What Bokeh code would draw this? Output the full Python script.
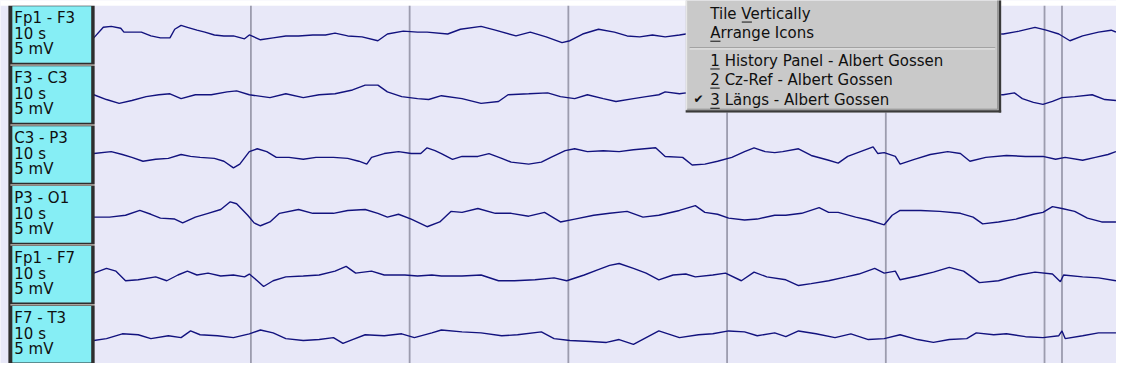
from bokeh.plotting import figure
from bokeh.models import Range1d
from bokeh.embed import file_html
from bokeh.resources import INLINE
from bokeh.core.properties import value

# ---------------- data ----------------
channels = ["Fp1 - F3", "F3 - C3", "C3 - P3", "P3 - O1", "Fp1 - F7", "F7 - T3"]
time_label = "10 s"
gain_label = "5 mV"
second_marks = [1, 2, 3, 4, 5, 6]
event_marks = [6.11]
menu_items = ["Tile Vertically", "Arrange Icons",
              "1 History Panel - Albert Gossen",
              "2 Cz-Ref - Albert Gossen",
              "3 L\u00e4ngs - Albert Gossen"]

# time in seconds, amplitude in display units (positive = up)
t_fp1_f3 = [0.01,0.07,0.12,0.18,0.20,0.25,0.31,0.37,0.43,0.49,0.52,0.56,0.60,0.66,0.71,0.77,0.83,0.89,0.96,0.99,
            1.06,1.14,1.22,1.30,1.39,1.47,1.53,1.61,1.70,1.80,1.86,1.96,2.05,2.11,2.24,2.32,2.45,2.54,2.67,2.76,
            2.86,2.96,3.01,3.09,3.19,3.29,3.37,3.45,3.53,3.61,3.70,3.74,5.74,5.84,5.94,6.01,6.09,6.16,6.24,6.34,
            6.42,6.45]
a_fp1_f3 = [-1,10,11,9,5,5,5,1,-1,-1,8,12,10,7,5,2,1,1,-2,2,
            -3,-1,1,1,2,2,4,1,0,-4,3,6,5,5,3,8,11,7,1,5,
            0,-6,-4,3,8,5,1,0,2,0,2,3,3,6,10,7,3,-4,1,5,
            7,5]

t_f3_c3 = [0.01,0.09,0.17,0.25,0.34,0.42,0.49,0.56,0.65,0.75,0.85,0.91,0.99,1.12,1.22,1.33,1.43,1.53,1.64,1.72,
           1.80,1.86,1.95,2.05,2.12,2.20,2.33,2.45,2.56,2.62,2.75,2.87,2.95,3.04,3.12,3.22,3.30,3.41,3.49,3.57,
           3.61,3.70,3.74,5.74,5.81,5.86,5.93,5.99,6.05,6.11,6.19,6.30,6.38,6.45]
a_f3_c3 = [2,-3,-7,-4,0,2,3,-2,2,2,5,6,2,-1,3,-1,2,3,7,12,
           12,5,0,-2,-3,1,-2,-7,-5,2,3,4,0,-2,2,-2,-5,-2,0,2,
           5,3,4,2,4,-2,-6,-8,-5,-1,0,2,-3,-4]

t_c3_p3 = [0.01,0.12,0.19,0.25,0.32,0.40,0.48,0.56,0.62,0.68,0.77,0.83,0.89,0.93,0.99,1.04,1.10,1.16,1.24,1.33,
           1.41,1.52,1.61,1.68,1.73,1.76,1.84,1.93,2.01,2.07,2.11,2.16,2.20,2.27,2.33,2.43,2.50,2.58,2.64,2.75,
           2.83,2.89,2.98,3.04,3.12,3.22,3.32,3.41,3.55,3.61,3.72,3.78,3.86,3.94,4.03,4.11,4.17,4.24,4.30,4.35,
           4.45,4.53,4.64,4.70,4.76,4.84,4.92,4.95,4.99,5.06,5.09,5.18,5.28,5.39,5.47,5.53,5.63,5.76,5.88,5.99,
           6.07,6.13,6.24,6.32,6.40,6.45]
a_c3_p3 = [3,5,2,-1,-5,-3,-2,2,0,-1,-2,-5,-12,-8,5,8,5,-1,-1,-3,
           -1,-1,-2,-5,-8,-1,3,5,3,3,9,6,3,-3,0,0,3,-2,-6,-8,
           -6,-1,6,8,5,6,5,7,9,0,-1,-9,-8,-5,-1,5,9,5,4,5,
           8,1,-4,-7,0,5,10,3,4,0,-8,-3,2,5,3,-5,-1,1,0,0,
           -3,-1,-4,-1,2,5]

t_p3_o1 = [0.01,0.11,0.21,0.30,0.37,0.43,0.52,0.57,0.65,0.73,0.81,0.87,0.91,0.98,1.02,1.06,1.12,1.18,1.30,1.39,
           1.52,1.61,1.72,1.80,1.86,1.93,2.01,2.11,2.19,2.26,2.33,2.43,2.54,2.64,2.75,2.85,2.95,3.04,3.16,3.26,
           3.37,3.47,3.57,3.70,3.80,3.86,3.94,4.01,4.11,4.19,4.30,4.37,4.47,4.58,4.64,4.70,4.81,4.89,4.99,5.04,
           5.09,5.22,5.34,5.47,5.55,5.61,5.71,5.82,5.93,5.99,6.05,6.11,6.19,6.27,6.36,6.45]
a_p3_o1 = [-1,-1,1,6,2,-2,-3,-7,-1,3,7,15,13,1,-7,-10,-6,3,7,3,
           3,6,7,3,-1,2,-3,-11,-6,5,4,8,3,3,0,4,-6,-3,1,3,
           5,-1,1,6,11,4,2,-2,-4,-3,1,1,3,9,4,4,-1,-4,-9,1,
           6,6,5,3,-1,-8,-6,-3,2,4,10,8,5,-2,-6,-6]

t_fp1_f7 = [0.01,0.09,0.15,0.21,0.29,0.40,0.47,0.54,0.60,0.66,0.73,0.81,0.89,0.96,0.99,1.04,1.08,1.14,1.22,1.33,
            1.43,1.53,1.60,1.66,1.76,1.84,1.97,2.05,2.14,2.20,2.33,2.45,2.56,2.66,2.79,2.91,2.99,3.10,3.18,3.26,
            3.32,3.41,3.49,3.57,3.66,3.74,3.80,3.91,3.99,4.09,4.17,4.25,4.37,4.45,4.53,4.64,4.75,4.83,4.93,4.99,
            5.06,5.09,5.20,5.30,5.40,5.49,5.59,5.71,5.84,5.94,6.05,6.10,6.12,6.24,6.34,6.45]
a_fp1_f7 = [3,8,5,-5,-4,-1,-5,1,5,1,3,0,1,-1,2,-5,-11,-5,-1,0,
            1,5,10,3,5,1,1,0,1,0,0,1,-5,-5,-4,-2,-5,1,6,11,
            13,8,3,-4,1,2,-1,1,3,-5,4,-1,-4,-10,-8,-5,-1,2,8,3,
            5,-4,0,4,9,5,-7,-5,1,4,2,-6,1,-1,-2,-5]

t_f7_t3 = [0.01,0.09,0.19,0.29,0.37,0.48,0.56,0.62,0.68,0.79,0.89,0.99,1.06,1.14,1.22,1.33,1.43,1.52,1.58,1.64,
           1.72,1.84,1.95,2.03,2.14,2.20,2.33,2.45,2.58,2.68,2.83,2.91,3.01,3.14,3.24,3.32,3.41,3.49,3.57,3.70,
           3.82,3.91,4.01,4.11,4.19,4.30,4.37,4.45,4.56,4.68,4.78,4.89,4.99,5.09,5.20,5.30,5.40,5.51,5.57,5.68,
           5.76,5.88,5.99,6.09,6.11,6.13,6.24,6.34,6.45]
a_f7_t3 = [-5,-3,2,1,-3,0,-2,5,1,0,-2,2,6,3,-3,-5,-4,-2,-8,-4,
           1,0,2,-2,3,6,4,3,0,1,4,-3,-5,-6,-7,-4,-9,-2,5,-2,
           1,2,5,4,0,3,-1,5,2,-2,2,-4,-3,1,-4,-7,-4,-3,3,1,
           2,-1,-2,0,5,-3,0,3,3]

traces = [(t_fp1_f3, a_fp1_f3), (t_f3_c3, a_f3_c3), (t_c3_p3, a_c3_p3),
          (t_p3_o1, a_p3_o1), (t_fp1_f7, a_fp1_f7), (t_f7_t3, a_f7_t3)]

# ---------------- layout helpers ----------------
PX_PER_S = 161.0      # horizontal scale (reference pixels per second)
X0 = 93.0             # reference x of t = 0
Y0 = 38.0             # reference y of first channel baseline
ROW = 62.4            # channel spacing (display units)
W, H = 1116, 363
TXT_DY = 6.0          # text baseline correction
FS = "15px"

def tx(px):
    return (px - X0) / PX_PER_S

def ty(py):
    return Y0 - py

p = figure(width=W, height=H, output_backend="svg", toolbar_location=None,
           x_range=Range1d(tx(0), tx(1132)), y_range=Range1d(ty(379), ty(0)),
           x_axis_type=None, y_axis_type=None, min_border=0)
p.background_fill_color = "#E8E8F8"
p.border_fill_color = "white"
p.outline_line_color = None
p.xgrid.visible = False
p.ygrid.visible = False

FONT = value("DejaVu Sans")
TOP, BOT = ty(-20), ty(420)

# white strip above the EEG window
p.quad(left=[tx(-10)], right=[tx(1140)], top=[TOP], bottom=[ty(5.5)], fill_color="white", line_color=None)

# second markers and event marker
p.segment(x0=second_marks, y0=[ty(5.5)] * len(second_marks), x1=second_marks, y1=[BOT] * len(second_marks),
          line_color="#9C9CAE", line_width=1.8)
p.segment(x0=event_marks, y0=[ty(5.5)] * len(event_marks), x1=event_marks, y1=[BOT] * len(event_marks),
          line_color="#9C9CAE", line_width=1.8)

# traces
for i, (t, a) in enumerate(traces):
    p.line(t, [-ROW * i + v for v in a], line_color="#12127E", line_width=1.4)

# label panel
p.quad(left=[tx(8)], right=[tx(95.5)], top=[ty(5.5)], bottom=[BOT], fill_color="#2E2E2E", line_color=None)
box_tops = [6 + 62.6 * i for i in range(6)]
p.quad(left=[tx(12)] * 6, right=[tx(92)] * 6,
       top=[ty(b) for b in box_tops], bottom=[ty(b + 59) for b in box_tops],
       fill_color="#86EEF5", line_color=None)
p.segment(x0=[tx(10)] * 5, x1=[tx(96)] * 5, y0=[ty(b - 1.2) for b in box_tops[1:]],
          y1=[ty(b - 1.2) for b in box_tops[1:]], line_color="#F2ECE2", line_width=1)
for i, ch in enumerate(channels):
    b = box_tops[i]
    p.text(x=[tx(14)] * 3,
           y=[ty(b + 18 - TXT_DY), ty(b + 35 - TXT_DY), ty(b + 51 - TXT_DY)],
           text=[ch, time_label, gain_label],
           text_font=FONT, text_font_size=FS, text_baseline="alphabetic",
           text_color="#101010")

# window menu overlay
p.quad(left=[tx(695)], right=[tx(1015)], top=[TOP], bottom=[ty(117)], fill_color="#C9C9C9", line_color=None)
p.quad(left=[tx(1012.5)], right=[tx(1015)], top=[TOP], bottom=[ty(117)], fill_color="#3A3A3A", line_color=None)
p.quad(left=[tx(695)], right=[tx(1015)], top=[ty(114.5)], bottom=[ty(117)], fill_color="#3A3A3A", line_color=None)
p.segment(x0=[tx(1011.5)], x1=[tx(1011.5)], y0=[TOP], y1=[ty(114)], line_color="#8C8C8C", line_width=1)
p.segment(x0=[tx(696)], x1=[tx(1011)], y0=[ty(113.5)], y1=[ty(113.5)], line_color="#8C8C8C", line_width=1)
p.segment(x0=[tx(696)], x1=[tx(696)], y0=[TOP], y1=[ty(114)], line_color="#ECECEC", line_width=1)
p.segment(x0=[tx(699)], x1=[tx(1009)], y0=[ty(49.5)], y1=[ty(49.5)], line_color="#8A8A8A", line_width=1)
p.segment(x0=[tx(699)], x1=[tx(1009)], y0=[ty(50.5)], y1=[ty(50.5)], line_color="#F4F4F4", line_width=1)

menu_baselines = [20, 40, 69, 89, 110]
p.text(x=[tx(720)] * len(menu_items), y=[ty(b - TXT_DY) for b in menu_baselines], text=menu_items,
       text_font=FONT, text_font_size=FS, text_baseline="alphabetic", text_color="#101010")
# mnemonic underlines (V, A, 1, 2, 3) for 15px DejaVu Sans
ul_start = [720 + 31.9, 720, 720, 720, 720]
ul_width = [10.3, 10.3, 9.5, 9.5, 9.5]
p.segment(x0=[tx(s) for s in ul_start], x1=[tx(s + w) for s, w in zip(ul_start, ul_width)],
          y0=[ty(b + 2.5) for b in menu_baselines], y1=[ty(b + 2.5) for b in menu_baselines],
          line_color="#101010", line_width=1)
p.text(x=[tx(703)], y=[ty(109 - TXT_DY)], text=["\u2714"], text_font=FONT, text_font_size="12px",
       text_baseline="alphabetic", text_color="#101010")

open("out.html", "w").write(file_html(p, INLINE))
